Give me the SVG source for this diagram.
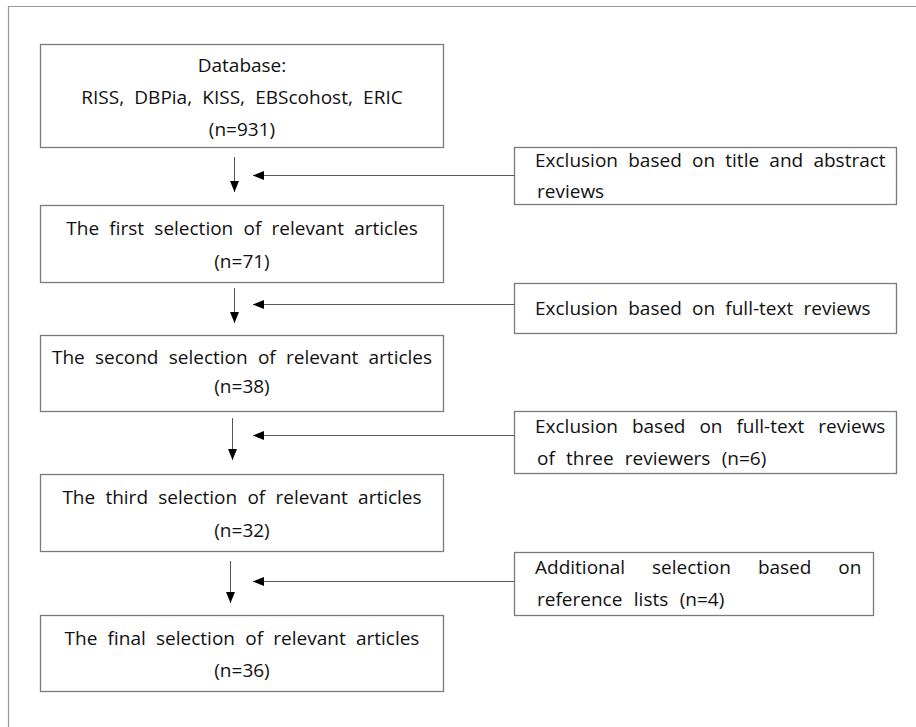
<svg xmlns="http://www.w3.org/2000/svg" width="916" height="727" viewBox="0 0 916 727">
<defs>
<style>
.box{fill:#fff;stroke:#7a7a7a;stroke-width:1.3}
.t{font-family:"Open Sans","Noto Sans","Liberation Sans",sans-serif;font-size:19px;fill:#111;word-spacing:5.3px}
.c{text-anchor:middle}
.conn{stroke:#555;stroke-width:1;fill:none}
</style>
<marker id="ah" markerUnits="userSpaceOnUse" markerWidth="12" markerHeight="12" viewBox="0 0 12 12" refX="11" refY="6" orient="auto">
<path d="M0,1.5 L11,6 L0,10.5 Z" fill="#000"/>
</marker>
</defs>
<rect width="916" height="727" fill="#fff"/>
<path d="M8.5,727 V6.5 H916" fill="none" stroke="#999" stroke-width="1.2"/>

<g id="box-database">
<rect class="box" x="40.5" y="44.5" width="403" height="103"/>
<text class="t c" x="242" y="72">Database:</text>
<text class="t c" x="242" y="104">RISS, DBPia, KISS, EBScohost, ERIC</text>
<text class="t c" x="242" y="136">(n=931)</text>
</g>
<g id="box-first">
<rect class="box" x="40.5" y="205.5" width="403" height="77"/>
<text class="t c" x="242" y="235">The first selection of relevant articles</text>
<text class="t c" x="242" y="268">(n=71)</text>
</g>
<g id="box-second">
<rect class="box" x="40.5" y="335.5" width="403" height="76"/>
<text class="t c" x="242" y="364">The second selection of relevant articles</text>
<text class="t c" x="242" y="393">(n=38)</text>
</g>
<g id="box-third">
<rect class="box" x="40.5" y="474.5" width="403" height="77"/>
<text class="t c" x="242" y="504">The third selection of relevant articles</text>
<text class="t c" x="242" y="537">(n=32)</text>
</g>
<g id="box-final">
<rect class="box" x="40.5" y="615.5" width="403" height="76"/>
<text class="t c" x="242" y="645">The final selection of relevant articles</text>
<text class="t c" x="242" y="677">(n=36)</text>
</g>

<g id="excl-1">
<rect class="box" x="514.5" y="147.5" width="382" height="57"/>
<text class="t" x="535" y="167">Exclusion based on title and abstract</text>
<text class="t" x="537" y="198">reviews</text>
</g>
<g id="excl-2">
<rect class="box" x="514.5" y="283.5" width="382" height="50"/>
<text class="t" x="535" y="315">Exclusion based on full-text reviews</text>
</g>
<g id="excl-3">
<rect class="box" x="514.5" y="411.5" width="382" height="62"/>
<text class="t" x="535" y="433" style="word-spacing:9px">Exclusion based on full-text reviews</text>
<text class="t" x="537" y="465" style="word-spacing:6.3px">of three reviewers (n=6)</text>
</g>
<g id="excl-4">
<rect class="box" x="514.5" y="552.5" width="359" height="63"/>
<text class="t" x="535" y="574" style="word-spacing:22px">Additional selection based on</text>
<text class="t" x="537" y="606" style="word-spacing:6.5px">reference lists (n=4)</text>
</g>

<g id="connectors">
<line class="conn" x1="234.5" y1="157" x2="234.5" y2="192" marker-end="url(#ah)"/>
<line class="conn" x1="234.5" y1="288" x2="234.5" y2="323" marker-end="url(#ah)"/>
<line class="conn" x1="232.5" y1="418" x2="232.5" y2="460" marker-end="url(#ah)"/>
<line class="conn" x1="230.5" y1="561" x2="230.5" y2="603" marker-end="url(#ah)"/>
<line class="conn" x1="514" y1="175.5" x2="253" y2="175.5" marker-end="url(#ah)"/>
<line class="conn" x1="514" y1="304.5" x2="253" y2="304.5" marker-end="url(#ah)"/>
<line class="conn" x1="514" y1="435.5" x2="253" y2="435.5" marker-end="url(#ah)"/>
<line class="conn" x1="514" y1="581.5" x2="253" y2="581.5" marker-end="url(#ah)"/>
</g>
</svg>
